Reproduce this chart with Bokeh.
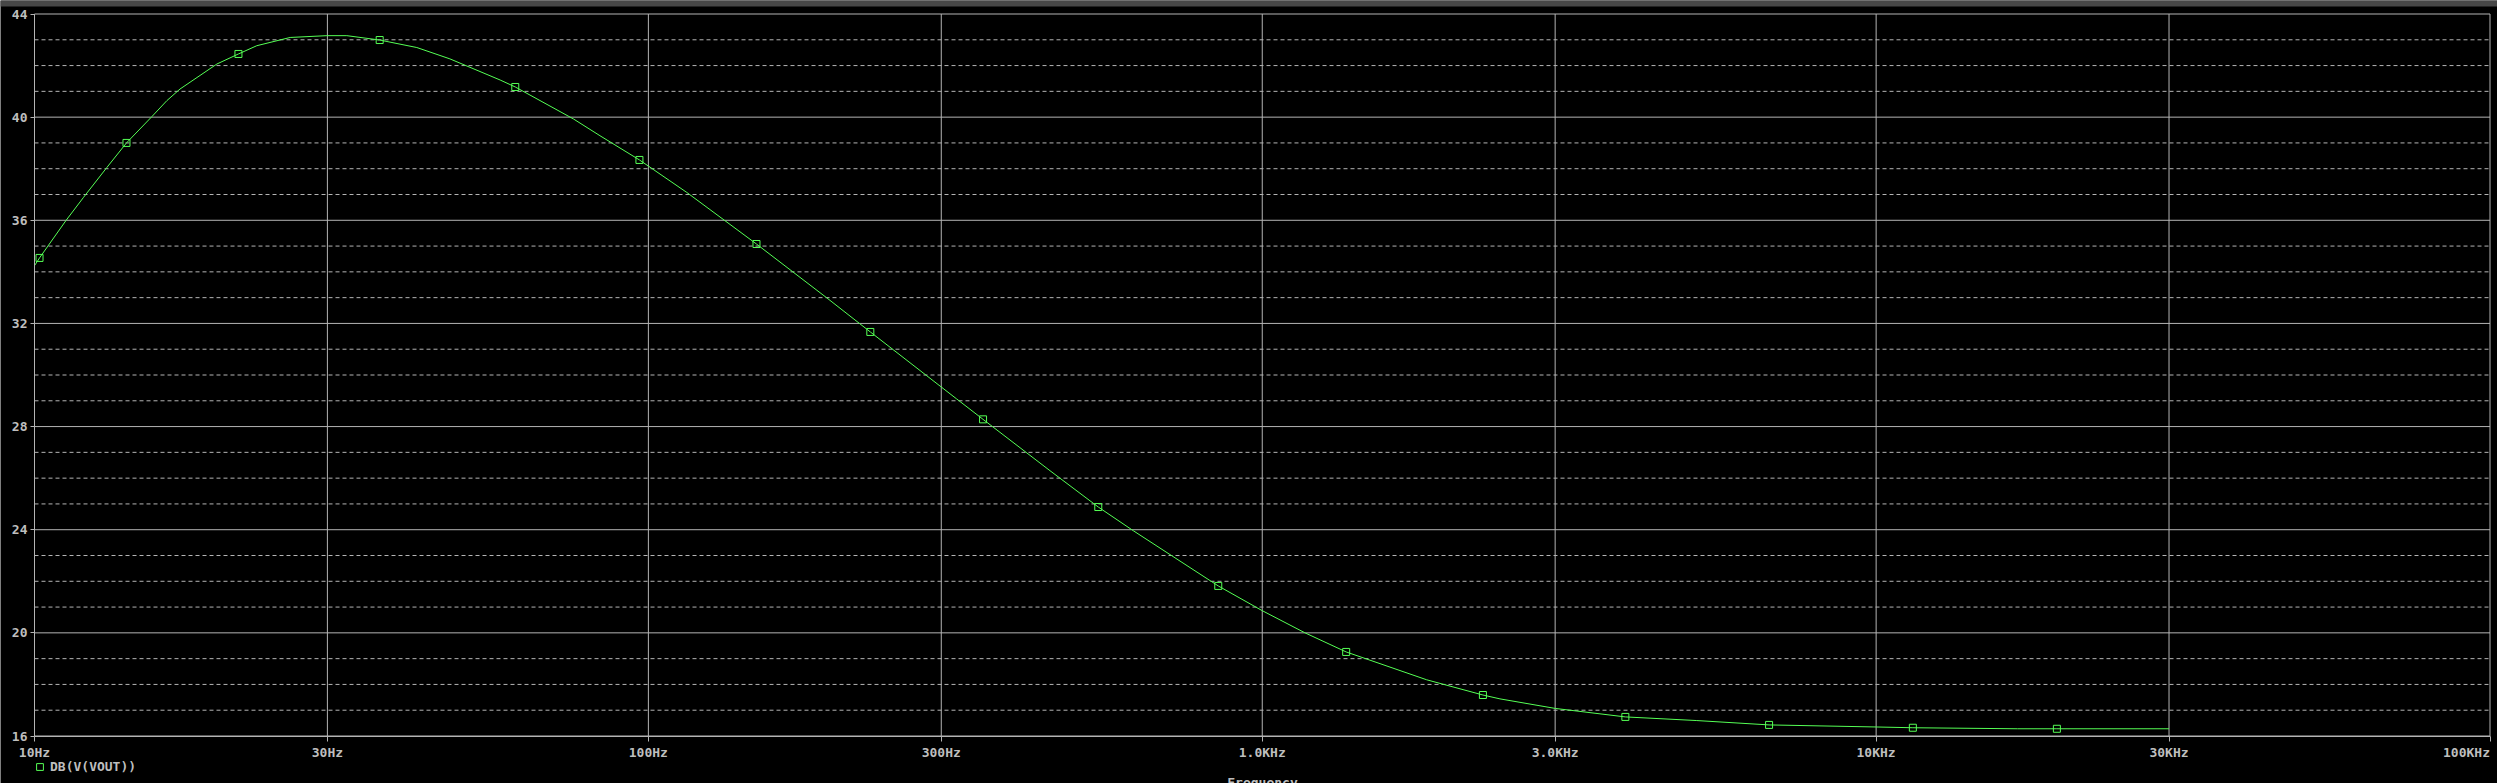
from bokeh.plotting import figure
from bokeh.models import FixedTicker, Legend, LegendItem, Range1d, BoxAnnotation
from bokeh.core.properties import value
from bokeh.embed import file_html
from bokeh.resources import INLINE

# ---- data ----
freq = [10.0, 10.19, 11.26, 12.02, 13.12, 14.12, 15.53, 16.43, 17.26, 19.82,
        21.49, 23.02, 26.09, 29.94, 32.27, 36.5, 41.96, 47.5, 57.35, 60.7,
        75.5, 83.4, 96.7, 115.5, 150.0, 195.3, 229.9, 317.9, 350.9, 451.0,
        540.6, 616.6, 847.9, 1000.0, 1174.0, 1370.0, 1853.0, 2288.0, 2439.0, 3000.0,
        3904.0, 5092.0, 6693.0, 10000.0, 11477.0, 17006.0, 19700.0, 30000.0]
db = [34.24, 34.54, 36.0, 36.89, 38.05, 39.0, 40.02, 40.64, 41.09, 42.06,
      42.45, 42.77, 43.09, 43.16, 43.16, 42.99, 42.70, 42.26, 41.44, 41.17,
      39.93, 39.28, 38.34, 37.08, 35.08, 32.99, 31.67, 29.07, 28.28, 26.29,
      24.88, 23.96, 21.82, 20.86, 20.0, 19.26, 18.18, 17.59, 17.44, 17.07,
      16.74, 16.60, 16.43, 16.35, 16.32, 16.28, 16.28, 16.28]
marker_freq = [10.19, 14.12, 21.49, 36.5, 60.7, 96.7, 150.0, 229.9, 350.9, 540.6,
               847.9, 1370.0, 2288.0, 3904.0, 6693.0, 11477.0, 19700.0]
marker_db = [34.54, 39.0, 42.45, 42.99, 41.17, 38.34, 35.08, 31.67, 28.28, 24.88,
             21.82, 19.26, 17.59, 16.74, 16.43, 16.32, 16.28]
x_ticks = [10, 30, 100, 300, 1000, 3000, 10000, 30000, 100000]
x_tick_labels = ["10Hz", "30Hz", "100Hz", "300Hz", "1.0KHz", "3.0KHz", "10KHz", "30KHz", "100KHz"]
y_ticks = [16, 20, 24, 28, 32, 36, 40, 44]
y_minor = [17, 18, 19, 21, 22, 23, 25, 26, 27, 29, 30, 31, 33, 34, 35, 37, 38, 39, 41, 42, 43]
x_lo, x_hi = 10, 100000
y_lo, y_hi = 16, 44
series_name = "DB(V(VOUT))"
x_title = "Frequency"

# ---- layout (pixel geometry of the reference) ----
W, H = 2497, 783
AX_LEFT, AX_RIGHT = 34.0, 2489.5        # pixel columns of 10 Hz and 100 kHz
AX_TOP, AX_BOTTOM = 13.5, 735.5         # pixel rows of 44 dB and 16 dB
BAND = 6                                # grey strip at the top of the window
px_per_dec = (AX_RIGHT - AX_LEFT) / 4.0
px_per_db = (AX_BOTTOM - AX_TOP) / (y_hi - y_lo)
x_start = x_lo * 10 ** (-AX_LEFT / px_per_dec)
x_end = x_hi * 10 ** ((W - AX_RIGHT) / px_per_dec)
y_start = y_lo - (H - AX_BOTTOM) / px_per_db
y_end = y_hi + AX_TOP / px_per_db
y_band = y_end - BAND / px_per_db

GRID = "#b4b4b4"
TXT = "#bebebe"
GREEN = "#55ff55"
FONT = "DejaVu Sans Mono"
FS = "13px"

p = figure(width=W, height=H, x_axis_type="log",
           x_range=Range1d(x_start, x_end), y_range=Range1d(y_start, y_end),
           output_backend="svg", toolbar_location=None,
           min_border_left=0, min_border_right=0, min_border_top=0, min_border_bottom=0,
           background_fill_color="black", border_fill_color="black")
p.outline_line_color = None

# window title strip
p.add_layout(BoxAnnotation(left=x_start, right=x_end, top=y_end, bottom=y_band,
                           fill_color="#474747", fill_alpha=1.0, line_color=None))

# axes, drawn at the 10 Hz / 16 dB lines
p.xaxis.ticker = FixedTicker(ticks=x_ticks)
overrides = {t: lab for t, lab in zip(x_ticks, x_tick_labels)}
overrides[x_ticks[-1]] = ""
p.xaxis.major_label_overrides = overrides
p.xaxis.fixed_location = y_lo
p.xaxis.bounds = (x_lo, x_hi)
p.yaxis.ticker = FixedTicker(ticks=y_ticks, minor_ticks=y_minor)
p.yaxis.fixed_location = x_lo
p.yaxis.bounds = (y_lo, y_hi)

for ax in (p.xaxis[0], p.yaxis[0]):
    ax.axis_line_color = GRID
    ax.major_tick_line_color = GRID
    ax.minor_tick_line_color = None
    ax.major_tick_in = 0
    ax.major_label_text_color = TXT
    ax.major_label_text_font = FONT
    ax.major_label_text_font_size = FS
    ax.major_label_text_font_style = "bold"
p.xaxis.major_tick_out = 5
p.xaxis.major_label_standoff = 4
p.yaxis.major_tick_out = 4
p.yaxis.major_label_standoff = 3

p.xaxis.axis_label = x_title
p.xaxis.axis_label_text_color = TXT
p.xaxis.axis_label_text_font = FONT
p.xaxis.axis_label_text_font_size = FS
p.xaxis.axis_label_text_font_style = "bold"
p.xaxis.axis_label_standoff = 11

# grid lines, bounded by the axes
p.xgrid.visible = False
p.ygrid.visible = False
p.segment(x0=x_ticks, y0=[y_lo] * len(x_ticks), x1=x_ticks, y1=[y_hi] * len(x_ticks),
          line_color=GRID, line_width=1)
p.segment(x0=[x_lo] * len(y_ticks), y0=y_ticks, x1=[x_hi] * len(y_ticks), y1=y_ticks,
          line_color=GRID, line_width=1)
p.segment(x0=[x_lo] * len(y_minor), y0=y_minor, x1=[x_hi] * len(y_minor), y1=y_minor,
          line_color=GRID, line_width=1, line_dash="4 3")

# last tick label is right-aligned to the plot's edge
p.text(x=[x_ticks[-1]], y=[y_lo], text=[x_tick_labels[-1]], y_offset=9,
       text_align="right", text_baseline="top", text_color=TXT,
       text_font=value(FONT), text_font_size=value(FS), text_font_style="bold")

# trace
p.line(freq, db, line_color=GREEN, line_width=1)
r = p.scatter(marker_freq, marker_db, marker="square", size=7,
              fill_color=None, line_color=GREEN, line_width=1)

legend = Legend(items=[LegendItem(label=series_name, renderers=[r])],
                location=(31, 8.5), background_fill_alpha=0, border_line_color=None,
                label_text_color=TXT, label_text_font=FONT, label_text_font_size=FS,
                label_text_font_style="bold", glyph_width=17, glyph_height=17,
                padding=0, margin=0, label_standoff=2)
p.add_layout(legend)

open("out.html", "w").write(file_html(p, INLINE))
